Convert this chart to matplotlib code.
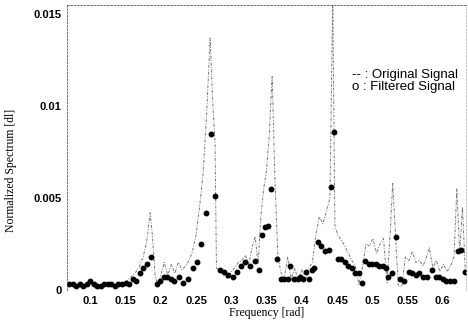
import matplotlib
matplotlib.use("Agg")
import matplotlib.pyplot as plt

# ---- data ----
freq_orig = [0.068, 0.08, 0.09, 0.10, 0.11, 0.12, 0.13, 0.14, 0.15, 0.155, 0.16, 0.165, 0.17, 0.175,
             0.18, 0.185, 0.188, 0.192, 0.196, 0.200, 0.205, 0.210, 0.215, 0.220, 0.225, 0.230,
             0.235, 0.240, 0.245, 0.250, 0.255, 0.260, 0.265, 0.270, 0.274, 0.277, 0.279, 0.285,
             0.290, 0.295, 0.300, 0.305, 0.310, 0.315, 0.320, 0.325, 0.330, 0.334, 0.338, 0.342,
             0.346, 0.350, 0.354, 0.358, 0.362, 0.366, 0.370, 0.375, 0.380, 0.385, 0.390, 0.395,
             0.400, 0.405, 0.410, 0.415, 0.420, 0.425, 0.430, 0.435, 0.440, 0.444, 0.447, 0.451,
             0.456, 0.461, 0.466, 0.471, 0.476, 0.481, 0.486, 0.491, 0.496, 0.501, 0.506, 0.511,
             0.516, 0.521, 0.526, 0.529, 0.533, 0.537, 0.542, 0.547, 0.552, 0.557, 0.562, 0.567,
             0.572, 0.577, 0.581, 0.586, 0.591, 0.596, 0.601, 0.606, 0.611, 0.616, 0.620, 0.624,
             0.628, 0.632]
orig = [0.0002, 0.0002, 0.0001, 0.0003, 0.0001, 0.0002, 0.0002, 0.0002, 0.0004, 0.0006, 0.0008,
        0.0010, 0.0013, 0.0018, 0.0026, 0.0042, 0.0030, 0.0008, 0.0002, 0.0008, 0.0015, 0.0008,
        0.0014, 0.0009, 0.0015, 0.0011, 0.0013, 0.0016, 0.0021, 0.0030, 0.0045, 0.0063, 0.0095,
        0.0137, 0.0100, 0.0080, 0.0012, 0.0010, 0.0008, 0.0006, 0.0010, 0.0012, 0.0015, 0.0016,
        0.0019, 0.0014, 0.0024, 0.0029, 0.0014, 0.0040, 0.0055, 0.0065, 0.0085, 0.0116, 0.0060,
        0.0020, 0.0010, 0.0006, 0.0018, 0.0006, 0.0012, 0.0005, 0.0011, 0.0005, 0.0012, 0.0015,
        0.0030, 0.0040, 0.0036, 0.0043, 0.0050, 0.0160, 0.0035, 0.0030, 0.0027, 0.0024, 0.0020,
        0.0016, 0.0013, 0.0003, 0.0012, 0.0025, 0.0024, 0.0028, 0.0020, 0.0025, 0.0028, 0.0004,
        0.0035, 0.0058, 0.0030, 0.0002, 0.0002, 0.0018, 0.0016, 0.0021, 0.0015, 0.0016, 0.0013,
        0.0018, 0.0023, 0.0012, 0.0016, 0.0010, 0.0014, 0.0010, 0.0013, 0.0018, 0.0055, 0.0020,
        0.0045, 0.0010]

freq_filt = [0.070, 0.075, 0.080, 0.085, 0.090, 0.095, 0.100, 0.105, 0.110, 0.115, 0.120, 0.125,
             0.130, 0.135, 0.140, 0.145, 0.150, 0.155, 0.160, 0.165, 0.170, 0.175, 0.180, 0.186,
             0.194, 0.199, 0.204, 0.209, 0.214, 0.219, 0.226, 0.232, 0.239, 0.246, 0.251, 0.257,
             0.264, 0.271, 0.277, 0.284, 0.290, 0.296, 0.302, 0.308, 0.314, 0.320, 0.327, 0.333,
             0.339, 0.343, 0.348, 0.352, 0.357, 0.365, 0.370, 0.375, 0.380, 0.384, 0.389, 0.394,
             0.398, 0.402, 0.406, 0.410, 0.414, 0.418, 0.423, 0.428, 0.433, 0.438, 0.442, 0.446,
             0.451, 0.456, 0.461, 0.466, 0.471, 0.476, 0.481, 0.486, 0.490, 0.495, 0.500, 0.505,
             0.510, 0.515, 0.519, 0.522, 0.528, 0.533, 0.540, 0.545, 0.552, 0.557, 0.562, 0.567,
             0.572, 0.577, 0.585, 0.590, 0.595, 0.600, 0.605, 0.610, 0.616, 0.622, 0.626, 0.631]
filt = [0.0003, 0.0003, 0.0002, 0.0003, 0.0002, 0.0003, 0.0005, 0.0003, 0.0002, 0.0002, 0.0003,
        0.0003, 0.0003, 0.0002, 0.0003, 0.0003, 0.0004, 0.0003, 0.0006, 0.0005, 0.0009, 0.0012,
        0.0014, 0.0018, 0.0003, 0.0005, 0.0007, 0.0007, 0.0006, 0.0005, 0.0007, 0.0004, 0.0006,
        0.0012, 0.0015, 0.0025, 0.0042, 0.0085, 0.0051, 0.0011, 0.0010, 0.0008, 0.0007, 0.0010,
        0.0013, 0.0015, 0.0013, 0.0016, 0.0011, 0.0030, 0.0034, 0.0035, 0.0055, 0.0017, 0.0006,
        0.0006, 0.0006, 0.0013, 0.0006, 0.0006, 0.0007, 0.0006, 0.0010, 0.0006, 0.0011, 0.0012,
        0.0026, 0.0024, 0.0021, 0.0022, 0.0056, 0.0086, 0.0017, 0.0017, 0.0015, 0.0013, 0.0012,
        0.0009, 0.0009, 0.0004, 0.0016, 0.0014, 0.0014, 0.0014, 0.0013, 0.0013, 0.0012, 0.0007,
        0.0009, 0.0029, 0.0006, 0.0005, 0.0010, 0.0009, 0.0008, 0.0009, 0.0007, 0.0007, 0.0011,
        0.0007, 0.0007, 0.0006, 0.0005, 0.0005, 0.0005, 0.0021, 0.0022, 0.0010]

xticks = [0.1, 0.15, 0.2, 0.25, 0.3, 0.35, 0.4, 0.45, 0.5, 0.55, 0.6]
xtick_labels = ["0.1", "0.15", "0.2", "0.25", "0.3", "0.35", "0.4", "0.45", "0.5", "0.55", "0.6"]
yticks = [0, 0.005, 0.01, 0.015]
ytick_labels = ["0", "0.005", "0.01", "0.015"]

fig = plt.figure(figsize=(4.68, 3.22), dpi=100)
ax = fig.add_axes([67/468, 1 - 290/322, (466-67)/468, (290-5)/322])

ax.plot(freq_orig, orig, linestyle='-.', color='#777777', lw=0.7, dashes=(3, 1.5, 1, 1.5))
ax.plot(freq_filt, filt, linestyle='none', marker='o', color='black', markersize=3.2)

ax.set_xlim(0.067, 0.633)
ax.set_ylim(0, 0.0155)
ax.set_xticks(xticks)
ax.set_xticklabels(xtick_labels)
ax.set_yticks(yticks)
ax.set_yticklabels(ytick_labels)
ax.tick_params(length=0, pad=4, labelsize=8)
for lab in ax.get_xticklabels() + ax.get_yticklabels():
    lab.set_family('Liberation Sans')
    lab.set_fontweight('bold')

for name, s in ax.spines.items():
    s.set_linewidth(0.6)
    s.set_linestyle((0, (2, 2)))
    s.set_color('#555555')
ax.spines['bottom'].set_visible(False)
ax.spines['right'].set_color('#bbbbbb')

ax.set_xlabel('Frequency [rad]', family='Liberation Serif', fontsize=8.5, labelpad=1)
ax.set_ylabel('Normalized Spectrum [dl]', family='Liberation Serif', fontsize=8.5)
ax.yaxis.set_label_coords(-0.125, 0.42)

ax.text(0.715, 0.735, '-- : Original Signal\no : Filtered Signal', transform=ax.transAxes,
        family='Liberation Sans', fontsize=9.5, va='center', ha='left', linespacing=1.0)

fig.savefig('out.png', dpi=100)
